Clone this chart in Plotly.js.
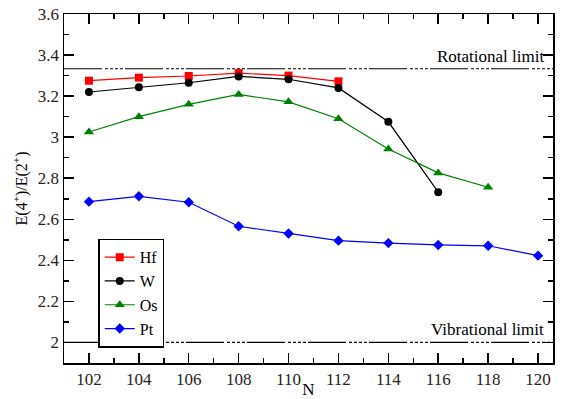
<!DOCTYPE html>
<html>
<head>
<meta charset="utf-8">
<script src="https://cdn.plot.ly/plotly-3.0.1.min.js"></script>
<style>
html,body{margin:0;padding:0;background:#fff}
#chart{width:562px;height:399px}
/* all chart text in a Times-style serif face */
svg text, svg tspan{font-family:'Liberation Serif' !important}
</style>
</head>
<body>
<div id="chart"></div>
<script>
// Neutron numbers and E(4+)/E(2+) ratios for each isotope chain
const nHf = [102, 104, 106, 108, 110, 112];
const ratioHf = [3.275, 3.29, 3.298, 3.312, 3.300, 3.272];
const nW = [102, 104, 106, 108, 110, 112, 114, 116];
const ratioW = [3.220, 3.243, 3.265, 3.296, 3.282, 3.240, 3.075, 2.732];
const nOs = [102, 104, 106, 108, 110, 112, 114, 116, 118];
const ratioOs = [3.025, 3.100, 3.160, 3.208, 3.172, 3.090, 2.942, 2.826, 2.756];
const nPt = [102, 104, 106, 108, 110, 112, 114, 116, 118, 120];
const ratioPt = [2.686, 2.712, 2.683, 2.566, 2.531, 2.496, 2.484, 2.475, 2.471, 2.423];
const rotationalLimit = 10 / 3;
const vibrationalLimit = 2.0;

const serif = 'Liberation Serif';

function series(name, x, y, color, symbol) {
  return {
    x: x, y: y, name: name, type: 'scatter', mode: 'lines+markers',
    line: {color: color, width: 1.2},
    marker: {color: color, symbol: symbol, size: symbol === 'triangle-up' ? 9 : 8}
  };
}

const traces = [
  series('Hf', nHf, ratioHf, '#ff0000', 'square'),
  series('W', nW, ratioW, '#000000', 'circle'),
  series('Os', nOs, ratioOs, '#008000', 'triangle-up'),
  series('Pt', nPt, ratioPt, '#0000ff', 'diamond')
];

const limitDash = '38px,3px,3px,2px,3px,2px,3px,2px,3px,2px';

const layout = {
  width: 562, height: 399,
  margin: {l: 64, r: 9, t: 14, b: 36},
  paper_bgcolor: '#fff', plot_bgcolor: '#fff',
  showlegend: true,
  legend: {
    x: 0.07, y: 0.356, xanchor: 'left', yanchor: 'top',
    bordercolor: '#000', borderwidth: 1.5, bgcolor: '#fff',
    font: {family: serif, size: 16, color: '#000'},
    tracegroupgap: 0, itemwidth: 30
  },
  xaxis: {
    range: [101, 120.6], dtick: 2, tick0: 102,
    ticks: 'inside', ticklen: 10, tickwidth: 1.5, tickcolor: '#000',
    minor: {dtick: 1, ticks: 'inside', ticklen: 5, tickwidth: 1.5, tickcolor: '#000'},
    showline: true, linecolor: '#000', linewidth: 1.5, mirror: 'ticks',
    showgrid: false, zeroline: false,
    tickfont: {family: serif, size: 17, color: '#2a2218'},
    title: {text: 'N', font: {family: serif, size: 17, color: '#000'}, standoff: 2}
  },
  yaxis: {
    range: [1.9, 3.6], dtick: 0.2, tick0: 2,
    ticks: 'inside', ticklen: 10, tickwidth: 1.5, tickcolor: '#000',
    minor: {dtick: 0.1, ticks: 'inside', ticklen: 5, tickwidth: 1.5, tickcolor: '#000'},
    showline: true, linecolor: '#000', linewidth: 1.5, mirror: 'ticks',
    showgrid: false, zeroline: false,
    tickformat: '~g',
    tickfont: {family: serif, size: 17, color: '#2a2218'},
    title: {text: 'E(4<sup>+</sup>)/E(2<sup>+</sup>)', font: {family: serif, size: 16, color: '#000'}, standoff: 6}
  },
  shapes: [
    {type: 'line', xref: 'paper', x0: 0, x1: 1, yref: 'y', y0: rotationalLimit, y1: rotationalLimit,
     line: {color: '#000', width: 1.2, dash: limitDash}},
    {type: 'line', xref: 'paper', x0: 0, x1: 1, yref: 'y', y0: vibrationalLimit, y1: vibrationalLimit,
     line: {color: '#000', width: 1.2, dash: limitDash}}
  ],
  annotations: [
    {text: 'Rotational limit', xref: 'paper', x: 0.985, xanchor: 'right', yref: 'y', y: rotationalLimit,
     yanchor: 'bottom', yshift: 1, showarrow: false, font: {family: serif, size: 17, color: '#000'}},
    {text: 'Vibrational limit', xref: 'paper', x: 0.985, xanchor: 'right', yref: 'y', y: vibrationalLimit,
     yanchor: 'bottom', yshift: 1, showarrow: false, font: {family: serif, size: 17, color: '#000'}}
  ]
};

Plotly.newPlot('chart', traces, layout, {displayModeBar: false, staticPlot: true});
</script>
</body>
</html>
